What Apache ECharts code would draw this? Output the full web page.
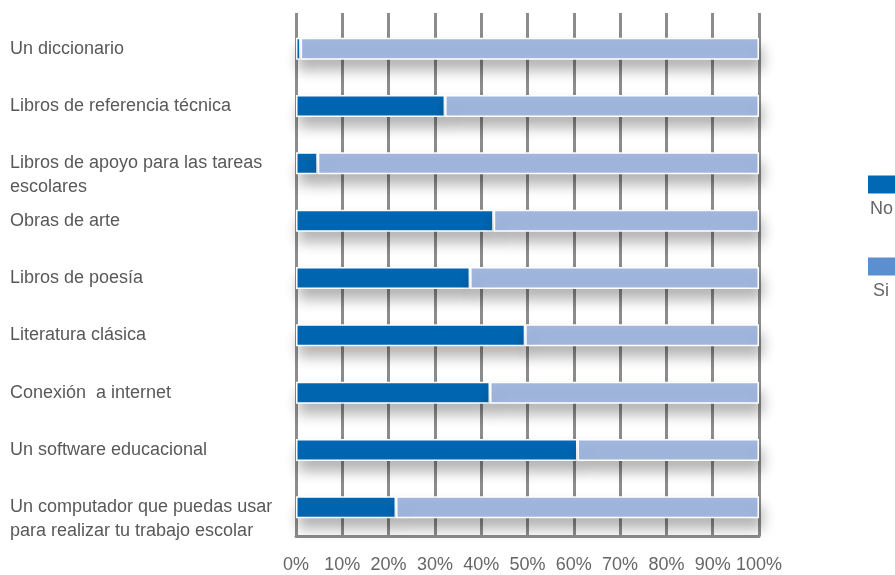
<!DOCTYPE html>
<html>
<head>
<meta charset="utf-8">
<script src="https://cdn.jsdelivr.net/npm/echarts@6/dist/echarts.min.js"></script>
<style>
  html, body { margin: 0; padding: 0; background: #ffffff; }
  #chart { width: 895px; height: 575px; }
</style>
</head>
<body>
<div id="chart"></div>
<script>
// Resources available at home (percent of students)
const categories = [
  'Un diccionario',
  'Libros de referencia técnica',
  'Libros de apoyo para las tareas\nescolares',
  'Obras de arte',
  'Libros de poesía',
  'Literatura clásica',
  'Conexión  a internet',
  'Un software educacional',
  'Un computador que puedas usar\npara realizar tu trabajo escolar'
];
const noValues = [1.0, 32.2, 4.7, 42.7, 37.6, 49.5, 41.9, 60.8, 21.6];
const siValues = [99.0, 67.8, 95.3, 57.3, 62.4, 50.5, 58.1, 39.2, 78.4];
const xTicks = [0, 10, 20, 30, 40, 50, 60, 70, 80, 90, 100];

const FONT = '"Liberation Sans Narrow", "Arial Narrow", "Liberation Sans", Roboto, sans-serif';
const GRID_COLOR = '#8c8c8c';

const barShadow = {
  shadowColor: 'rgba(0,0,0,0.30)',
  shadowBlur: 14,
  shadowOffsetX: 3,
  shadowOffsetY: 10
};

// Legend entries: swatch on top, name underneath
function legendFor(name, color, top, textShift) {
  return {
    data: [{
      name: name,
      itemStyle: { color: color, borderWidth: 0, shadowBlur: 0, shadowOffsetX: 0, shadowOffsetY: 0 }
    }],
    left: 863, top: top,
    itemWidth: 30, itemHeight: 18,
    icon: 'rect',
    selectedMode: false,
    formatter: '\n\n{name}',
    textStyle: {
      color: '#666666', fontSize: 18, fontFamily: FONT,
      lineHeight: 25, padding: [0, 0, 0, textShift]
    }
  };
}

const chart = echarts.init(document.getElementById('chart'), null, { renderer: 'canvas' });

chart.setOption({
  animation: false,
  backgroundColor: '#ffffff',
  textStyle: { fontFamily: FONT },
  grid: { left: 296, top: 20, width: 463, height: 516, containLabel: false },
  legend: [
    legendFor('No', '#0068b5', 142, -33),
    legendFor('Si', '#5b8fd0', 224, -30)
  ],
  xAxis: [
    {
      type: 'value',
      position: 'bottom',
      min: xTicks[0],
      max: xTicks[xTicks.length - 1],
      interval: 10,
      axisLine: { show: true, lineStyle: { color: GRID_COLOR, width: 3 } },
      axisTick: { show: false },
      splitLine: { show: true, lineStyle: { color: GRID_COLOR, width: 3 } },
      axisLabel: {
        color: '#666666',
        fontSize: 18,
        fontFamily: FONT,
        margin: 20,
        formatter: v => v + '%'
      }
    },
    {
      type: 'value',
      position: 'top',
      min: xTicks[0],
      max: xTicks[xTicks.length - 1],
      interval: 10,
      axisLine: { show: false },
      axisTick: { show: true, length: 7, inside: false, lineStyle: { color: GRID_COLOR, width: 3 } },
      splitLine: { show: false },
      axisLabel: { show: false }
    }
  ],
  yAxis: {
    type: 'category',
    data: categories,
    inverse: true,
    axisLine: { show: false },
    axisTick: { show: false },
    splitLine: { show: false },
    axisLabel: {
      color: '#595959',
      fontSize: 18,
      fontFamily: FONT,
      align: 'left',
      verticalAlign: 'top',
      lineHeight: 24,
      margin: 286,
      padding: [-12, 0, 0, 0]
    }
  },
  series: [
    {
      name: 'No',
      type: 'bar',
      stack: 'total',
      barWidth: 22,
      data: noValues,
      itemStyle: Object.assign({ color: '#0068b5', borderColor: '#ffffff', borderWidth: 1.5 }, barShadow)
    },
    {
      name: 'Si',
      type: 'bar',
      stack: 'total',
      barWidth: 22,
      data: siValues,
      itemStyle: Object.assign({ color: '#a3b9e0', borderColor: '#ffffff', borderWidth: 1.5 }, barShadow)
    }
  ]
});
</script>
</body>
</html>
